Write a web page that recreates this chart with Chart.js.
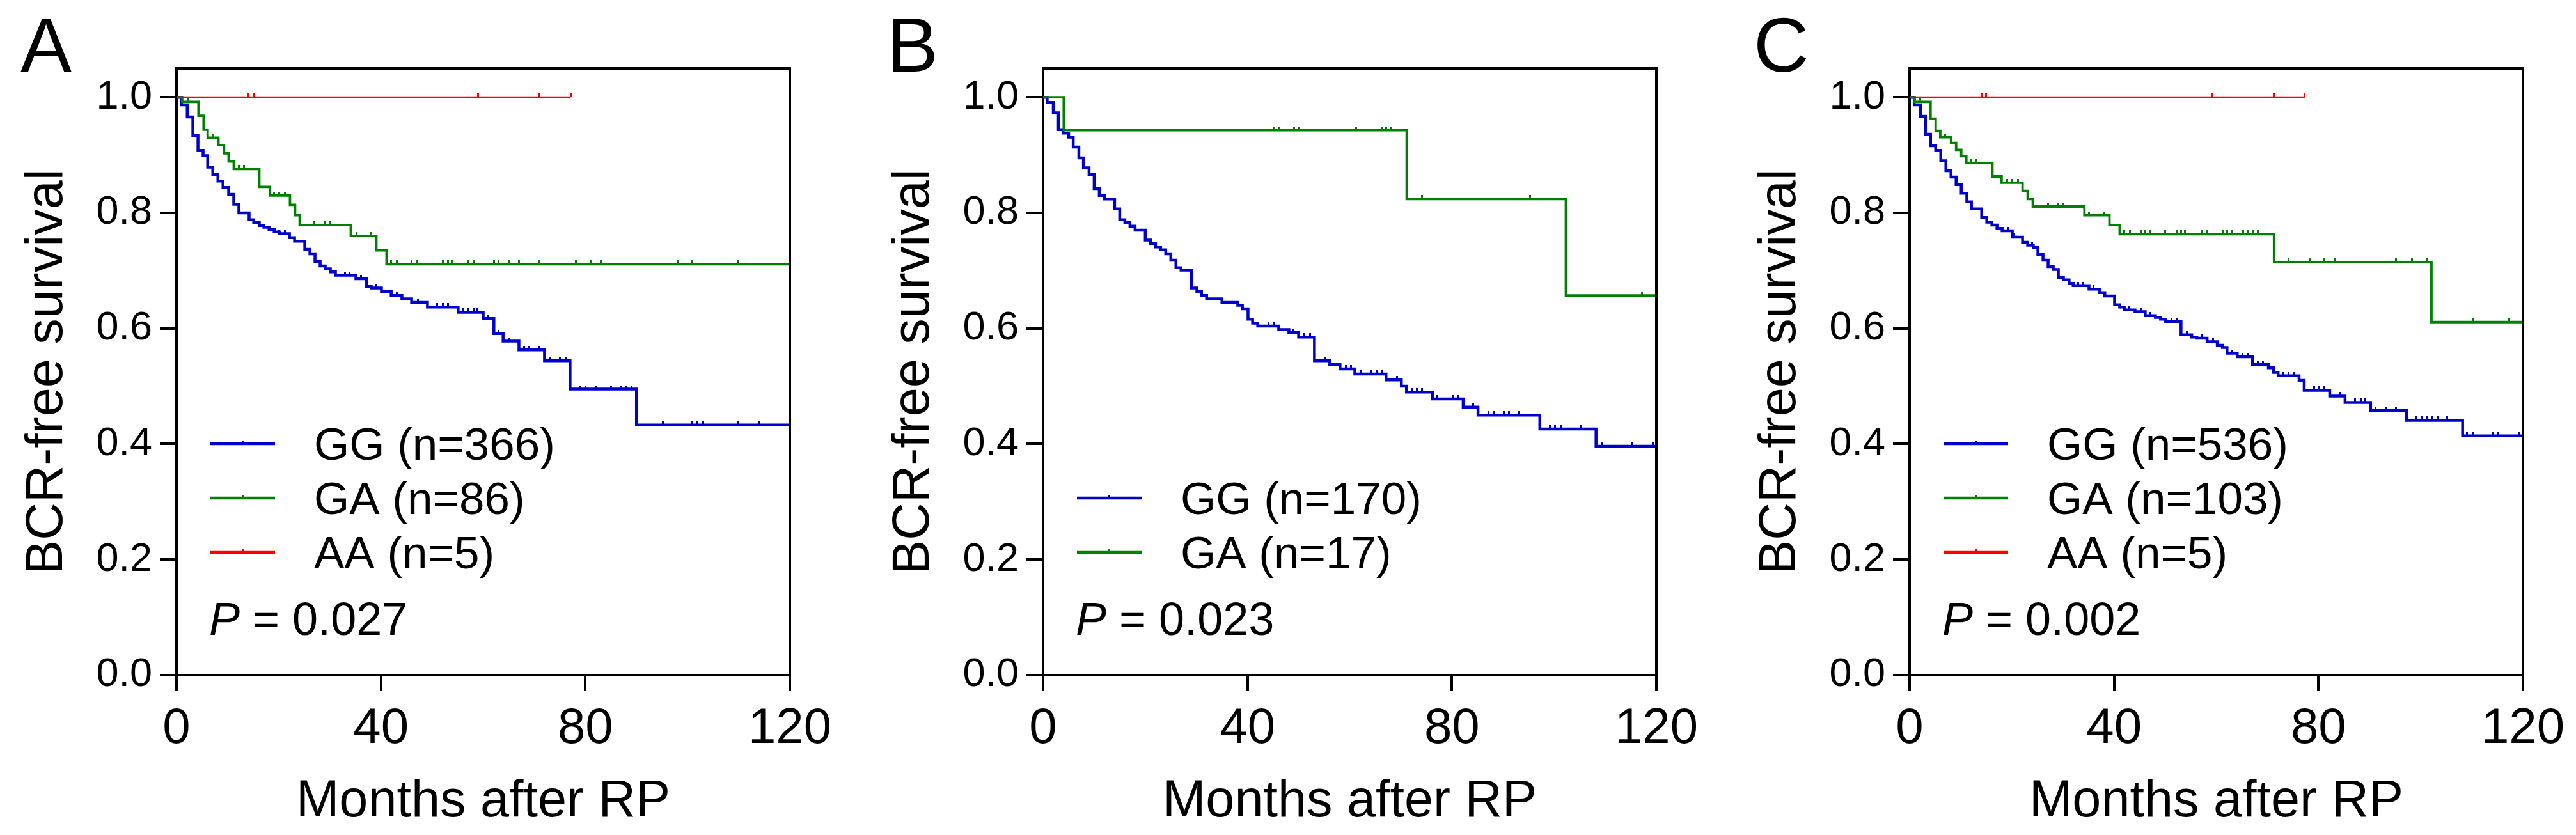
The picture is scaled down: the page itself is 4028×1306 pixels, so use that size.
<!DOCTYPE html>
<html>
<head>
<meta charset="utf-8">
<title>BCR-free survival by genotype</title>
<script src="https://cdn.jsdelivr.net/npm/chart.js@4.4.1/dist/chart.umd.min.js"></script>
<style>
  html, body { margin: 0; padding: 0; background: #fff; overflow: hidden; }
  #wrap { position: relative; width: 4028px; height: 1306px; overflow: hidden; background: #fff; }
  .panel { position: absolute; top: 0; width: 1355px; height: 1306px; }
</style>
</head>
<body>
<div id="wrap">
  <div class="panel" style="left:0px"><canvas id="chartA" width="1355" height="1306"></canvas></div>
  <div class="panel" style="left:1355px"><canvas id="chartB" width="1355" height="1306"></canvas></div>
  <div class="panel" style="left:2710px"><canvas id="chartC" width="1355" height="1306"></canvas></div>
</div>
<script>
// ---- data ----
const xTicks = [0, 40, 80, 120];
const yTicks = [0, 0.2, 0.4, 0.6, 0.8, 1.0];
const pValues = ['0.027', '0.023', '0.002'];
const panelLetters = ['A', 'B', 'C'];

const groupsA = ['GG (n=366)', 'GA (n=86)', 'AA (n=5)'];
const groupsB = ['GG (n=170)', 'GA (n=17)'];
const groupsC = ['GG (n=536)', 'GA (n=103)', 'AA (n=5)'];

// panel A
const aGGMonths = [0, 1.0, 2.1, 3.2, 4.2, 5.2, 6.1, 7.1, 8.1, 9.1, 10.2, 11.2, 12.2, 14.2, 15.1, 16.2, 17.1, 18.1, 19.1, 20.1, 22.1, 23.1, 25.1, 26.1, 27.1, 28.1, 29.1, 30.1, 31.1, 35.1, 37.2, 38.1, 40.1, 42.0, 44.1, 46.0, 49.1, 55.1, 60.0, 62.1, 63.9, 67.0, 72.0, 77.0, 90.0, 120];
const aGGSurv = [1.0, 0.987, 0.966, 0.934, 0.908, 0.899, 0.879, 0.866, 0.855, 0.844, 0.832, 0.815, 0.800, 0.788, 0.783, 0.778, 0.775, 0.771, 0.767, 0.764, 0.757, 0.751, 0.737, 0.729, 0.716, 0.708, 0.703, 0.698, 0.692, 0.686, 0.673, 0.670, 0.664, 0.657, 0.651, 0.645, 0.637, 0.628, 0.617, 0.591, 0.578, 0.563, 0.544, 0.495, 0.433, 0.433];
const aGGCensor = [16.2, 19.2, 20.1, 21.2, 33.0, 33.9, 36.1, 39.0, 43.1, 47.2, 51.0, 52.1, 53.1, 56.0, 57.0, 58.1, 58.9, 61.0, 63.0, 65.0, 68.0, 69.0, 71.0, 73.0, 75.0, 76.1, 79.0, 80.0, 82.1, 85.0, 86.9, 88.0, 89.0, 95.1, 100.9, 101.9, 103.0, 109.9, 114.0];
const aGAMonths = [0, 1.1, 4.3, 5.3, 6.1, 8.2, 9.3, 10.2, 11.2, 16.2, 18.3, 22.2, 23.2, 24.1, 34.1, 39.1, 41.1, 120];
const aGASurv = [1.0, 0.992, 0.968, 0.944, 0.930, 0.917, 0.903, 0.889, 0.876, 0.845, 0.830, 0.814, 0.796, 0.779, 0.760, 0.735, 0.711, 0.711];
const aGACensor = [2.2, 7.2, 12.2, 13.2, 19.1, 20.1, 21.2, 27.0, 29.1, 30.1, 35.2, 38.1, 42.0, 43.1, 46.0, 47.0, 52.1, 53.1, 53.9, 57.1, 58.1, 62.1, 63.0, 65.0, 67.0, 71.0, 78.1, 81.1, 83.0, 98.0, 100.9, 109.9];
const aAAMonths = [0, 77.1];
const aAASurv = [1.0, 1.0];
const aAACensor = [14.1, 15.1, 59.0, 71.0, 77.1];

// panel B
const bGGMonths = [0, 0.8, 2.0, 3.0, 3.9, 5.0, 5.9, 7.0, 7.9, 9.0, 10.0, 11.0, 12.0, 14.0, 15.0, 16.0, 17.0, 18.0, 20.0, 21.0, 22.0, 23.0, 24.0, 25.0, 26.0, 27.0, 29.0, 30.1, 31.0, 32.0, 35.0, 38.1, 39.0, 40.1, 41.0, 42.0, 46.1, 48.1, 50.0, 53.1, 56.1, 58.1, 61.0, 67.1, 70.1, 71.1, 76.2, 82.2, 85.1, 97.2, 108.2, 120];
const bGGSurv = [1.0, 0.991, 0.973, 0.944, 0.938, 0.931, 0.914, 0.895, 0.878, 0.866, 0.842, 0.830, 0.824, 0.807, 0.788, 0.783, 0.777, 0.770, 0.753, 0.747, 0.741, 0.736, 0.729, 0.718, 0.705, 0.701, 0.670, 0.664, 0.657, 0.651, 0.645, 0.640, 0.634, 0.616, 0.609, 0.604, 0.598, 0.593, 0.585, 0.544, 0.538, 0.530, 0.521, 0.511, 0.500, 0.490, 0.478, 0.464, 0.450, 0.426, 0.396, 0.396];
const bGGCensor = [44.1, 45.2, 48.9, 51.0, 52.2, 55.1, 59.2, 60.2, 62.2, 64.1, 65.2, 66.2, 69.2, 72.1, 73.1, 74.2, 77.1, 80.1, 81.2, 84.2, 87.1, 88.3, 90.1, 91.2, 93.2, 99.2, 100.2, 101.3, 105.3, 109.3, 115.3, 119.3];
const bGAMonths = [0, 4.05, 71.15, 102.3, 120];
const bGASurv = [1.0, 0.943, 0.824, 0.657, 0.657];
const bGACensor = [45.2, 46.1, 49.1, 50.0, 61.2, 66.2, 67.1, 68.1, 74.2, 95.3, 117.2];

// panel C
const cGGMonths = [0, 0.9, 2.1, 3.1, 4.1, 5.1, 6.1, 7.1, 8.1, 9.1, 10.1, 11.2, 12.1, 14.1, 15.1, 16.1, 17.1, 18.1, 20.1, 22.1, 23.1, 24.2, 25.1, 26.1, 27.1, 28.1, 29.1, 30.1, 31.2, 32.0, 35.1, 37.2, 38.2, 40.1, 41.1, 42.0, 44.1, 46.1, 48.1, 49.1, 50.1, 53.1, 55.2, 56.2, 58.2, 60.2, 61.2, 62.1, 64.1, 67.1, 70.2, 71.2, 72.1, 76.2, 77.2, 82.2, 85.2, 90.2, 97.2, 108.2, 120];
const cGGSurv = [1.0, 0.987, 0.967, 0.936, 0.916, 0.908, 0.890, 0.873, 0.862, 0.849, 0.834, 0.819, 0.807, 0.792, 0.784, 0.779, 0.773, 0.769, 0.758, 0.749, 0.744, 0.740, 0.728, 0.718, 0.707, 0.702, 0.688, 0.684, 0.678, 0.674, 0.668, 0.662, 0.656, 0.641, 0.637, 0.632, 0.629, 0.622, 0.619, 0.616, 0.612, 0.589, 0.585, 0.583, 0.577, 0.571, 0.567, 0.557, 0.551, 0.538, 0.532, 0.524, 0.518, 0.510, 0.493, 0.483, 0.472, 0.458, 0.441, 0.414, 0.414];
const cGGCensor = [16.1, 19.2, 20.5, 24.0, 33.0, 33.9, 36.0, 43.0, 45.2, 47.0, 51.2, 52.3, 54.3, 57.3, 59.4, 63.1, 65.1, 66.2, 68.1, 69.1, 73.1, 74.1, 75.1, 79.2, 80.2, 81.2, 84.2, 87.2, 88.3, 89.2, 91.2, 93.3, 95.2, 99.1, 100.2, 101.2, 102.3, 103.3, 105.2, 109.1, 110.2, 114.1, 115.2, 119.2];
const cGAMonths = [0, 1.0, 4.1, 5.1, 6.0, 8.1, 9.1, 10.1, 11.1, 16.2, 18.0, 22.1, 23.1, 24.1, 34.2, 39.1, 41.1, 71.3, 102.1, 120];
const cGASurv = [1.0, 0.992, 0.963, 0.942, 0.931, 0.921, 0.909, 0.898, 0.886, 0.863, 0.852, 0.838, 0.824, 0.811, 0.796, 0.779, 0.763, 0.715, 0.611, 0.611];
const cGACensor = [2.1, 7.0, 12.0, 13.0, 19.1, 20.1, 21.2, 27.1, 29.1, 30.1, 35.1, 38.1, 42.0, 43.1, 45.2, 46.0, 47.0, 50.0, 52.3, 53.1, 53.9, 57.1, 58.1, 61.2, 62.1, 63.1, 65.3, 66.2, 67.2, 68.1, 74.2, 78.3, 81.2, 83.2, 95.2, 98.3, 101.2, 110.3, 117.3];
const cAAMonths = [0, 77.3];
const cAASurv = [1.0, 1.0];
const cAACensor = [14.1, 15.0, 59.2, 71.2, 77.3];

// ---- styling ----
const FONT = '"Liberation Sans", Arial, Helvetica, sans-serif';
const lineColors = ['#0000CC', '#008000', '#FF0000'];
const lineWidths = [4.5, 3.8, 3];

// small upward tick used as the censor mark (drawn centred on the point)
function censorTick(color) {
    const c = document.createElement('canvas');
    c.width = 3;
    c.height = 12;
    const g = c.getContext('2d');
    g.fillStyle = color;
    g.fillRect(0, 0, 3, 6);
    return c;
}
const censorMarks = lineColors.map(censorTick);

// survival value of a step curve at time t
function stepAt(months, surv, t) {
    let v = surv[0];
    for (let i = 0; i < months.length; i++) {
        if (months[i] <= t) v = surv[i];
    }
    return v;
}

const kmDecor = {
    id: 'kmDecor',
    afterDraw(chart, args, opts) {
        const ctx = chart.ctx;
        const a = chart.chartArea;
        ctx.save();

        // box: top and right edges
        ctx.strokeStyle = '#000';
        ctx.lineWidth = 4;
        ctx.lineCap = 'square';
        ctx.beginPath();
        ctx.moveTo(a.left, a.top);
        ctx.lineTo(a.right, a.top);
        ctx.lineTo(a.right, a.bottom);
        ctx.stroke();

        // panel letter
        ctx.fillStyle = '#000';
        ctx.textAlign = 'left';
        ctx.textBaseline = 'alphabetic';
        ctx.font = '120px ' + FONT;
        ctx.fillText(opts.letter, a.left - 244, 112);

        // legend
        const n = opts.labels.length;
        ctx.font = '71px ' + FONT;
        ctx.lineCap = 'butt';
        opts.labels.forEach((lab, i) => {
            const y = a.bottom - 192 - (n - 1 - i) * 85;
            ctx.strokeStyle = lineColors[i];
            ctx.lineWidth = 4.3;
            ctx.beginPath();
            ctx.moveTo(a.left + 53, y);
            ctx.lineTo(a.left + 154, y);
            ctx.stroke();
            ctx.fillStyle = lineColors[i];
            ctx.fillRect(a.left + 102, y - 5, 3, 5);
            ctx.fillStyle = '#000';
            ctx.fillText(lab, a.left + 215, y + 25);
        });

        // P value
        const py = a.bottom - 63;
        ctx.font = 'italic 72px ' + FONT;
        ctx.fillText('P', a.left + 51, py);
        const pw = ctx.measureText('P').width;
        ctx.font = '72px ' + FONT;
        ctx.fillText(' = ' + opts.p, a.left + 51 + pw, py);

        ctx.restore();
    }
};

function makePanel(canvasId, letter, labels, p, series) {
    const datasets = [];
    series.forEach((s, i) => {
        datasets.push({
            data: s.months.map((m, k) => ({ x: m, y: s.surv[k] })),
            borderColor: lineColors[i],
            borderWidth: lineWidths[i],
            stepped: 'before',
            pointRadius: 0,
            fill: false,
            tension: 0,
            borderJoinStyle: 'miter',
            borderCapStyle: 'butt',
            order: 10 - i
        });
        datasets.push({
            data: s.censor.map(t => ({ x: t, y: stepAt(s.months, s.surv, t) })),
            showLine: false,
            pointStyle: censorMarks[i],
            pointRadius: 6,
            borderColor: lineColors[i],
            order: 10 - i
        });
    });

    const gridOpts = (len) => ({
        display: true,
        drawOnChartArea: false,
        drawTicks: true,
        tickLength: len,
        lineWidth: 4,
        color: '#000'
    });

    return new Chart(document.getElementById(canvasId), {
        type: 'line',
        data: { datasets: datasets },
        options: {
            responsive: false,
            animation: false,
            events: [],
            layout: { padding: { left: 0, top: 107, right: 120, bottom: 0 } },
            plugins: {
                legend: { display: false },
                tooltip: { enabled: false },
                kmDecor: { letter: letter, labels: labels, p: p }
            },
            scales: {
                x: {
                    type: 'linear',
                    min: 0,
                    max: 120,
                    afterBuildTicks: s => { s.ticks = xTicks.map(v => ({ value: v })); },
                    afterFit: s => { s.height = 250; },
                    ticks: {
                        autoSkip: false,
                        maxRotation: 0,
                        padding: 13,
                        color: '#000',
                        font: { size: 78, family: FONT },
                        callback: v => String(v)
                    },
                    grid: gridOpts(25),
                    border: { display: true, color: '#000', width: 4 },
                    title: {
                        display: true,
                        text: 'Months after RP',
                        color: '#000',
                        font: { size: 81, family: FONT },
                        padding: { top: 0, bottom: 3 }
                    }
                },
                y: {
                    type: 'linear',
                    min: 0,
                    max: 1.05,
                    afterBuildTicks: s => { s.ticks = yTicks.map(v => ({ value: v })); },
                    afterFit: s => { s.width = 276; },
                    ticks: {
                        autoSkip: false,
                        padding: 12,
                        color: '#000',
                        font: { size: 63, family: FONT },
                        callback: v => v.toFixed(1)
                    },
                    grid: gridOpts(26),
                    border: { display: true, color: '#000', width: 4 },
                    title: {
                        display: true,
                        text: 'BCR-free survival',
                        color: '#000',
                        font: { size: 81, family: FONT },
                        padding: { top: 26, bottom: 0 }
                    }
                }
            }
        },
        plugins: [kmDecor]
    });
}

makePanel('chartA', panelLetters[0], groupsA, pValues[0], [
    { months: aGGMonths, surv: aGGSurv, censor: aGGCensor },
    { months: aGAMonths, surv: aGASurv, censor: aGACensor },
    { months: aAAMonths, surv: aAASurv, censor: aAACensor }
]);
makePanel('chartB', panelLetters[1], groupsB, pValues[1], [
    { months: bGGMonths, surv: bGGSurv, censor: bGGCensor },
    { months: bGAMonths, surv: bGASurv, censor: bGACensor }
]);
makePanel('chartC', panelLetters[2], groupsC, pValues[2], [
    { months: cGGMonths, surv: cGGSurv, censor: cGGCensor },
    { months: cGAMonths, surv: cGASurv, censor: cGACensor },
    { months: cAAMonths, surv: cAASurv, censor: cAACensor }
]);
</script>
</body>
</html>
